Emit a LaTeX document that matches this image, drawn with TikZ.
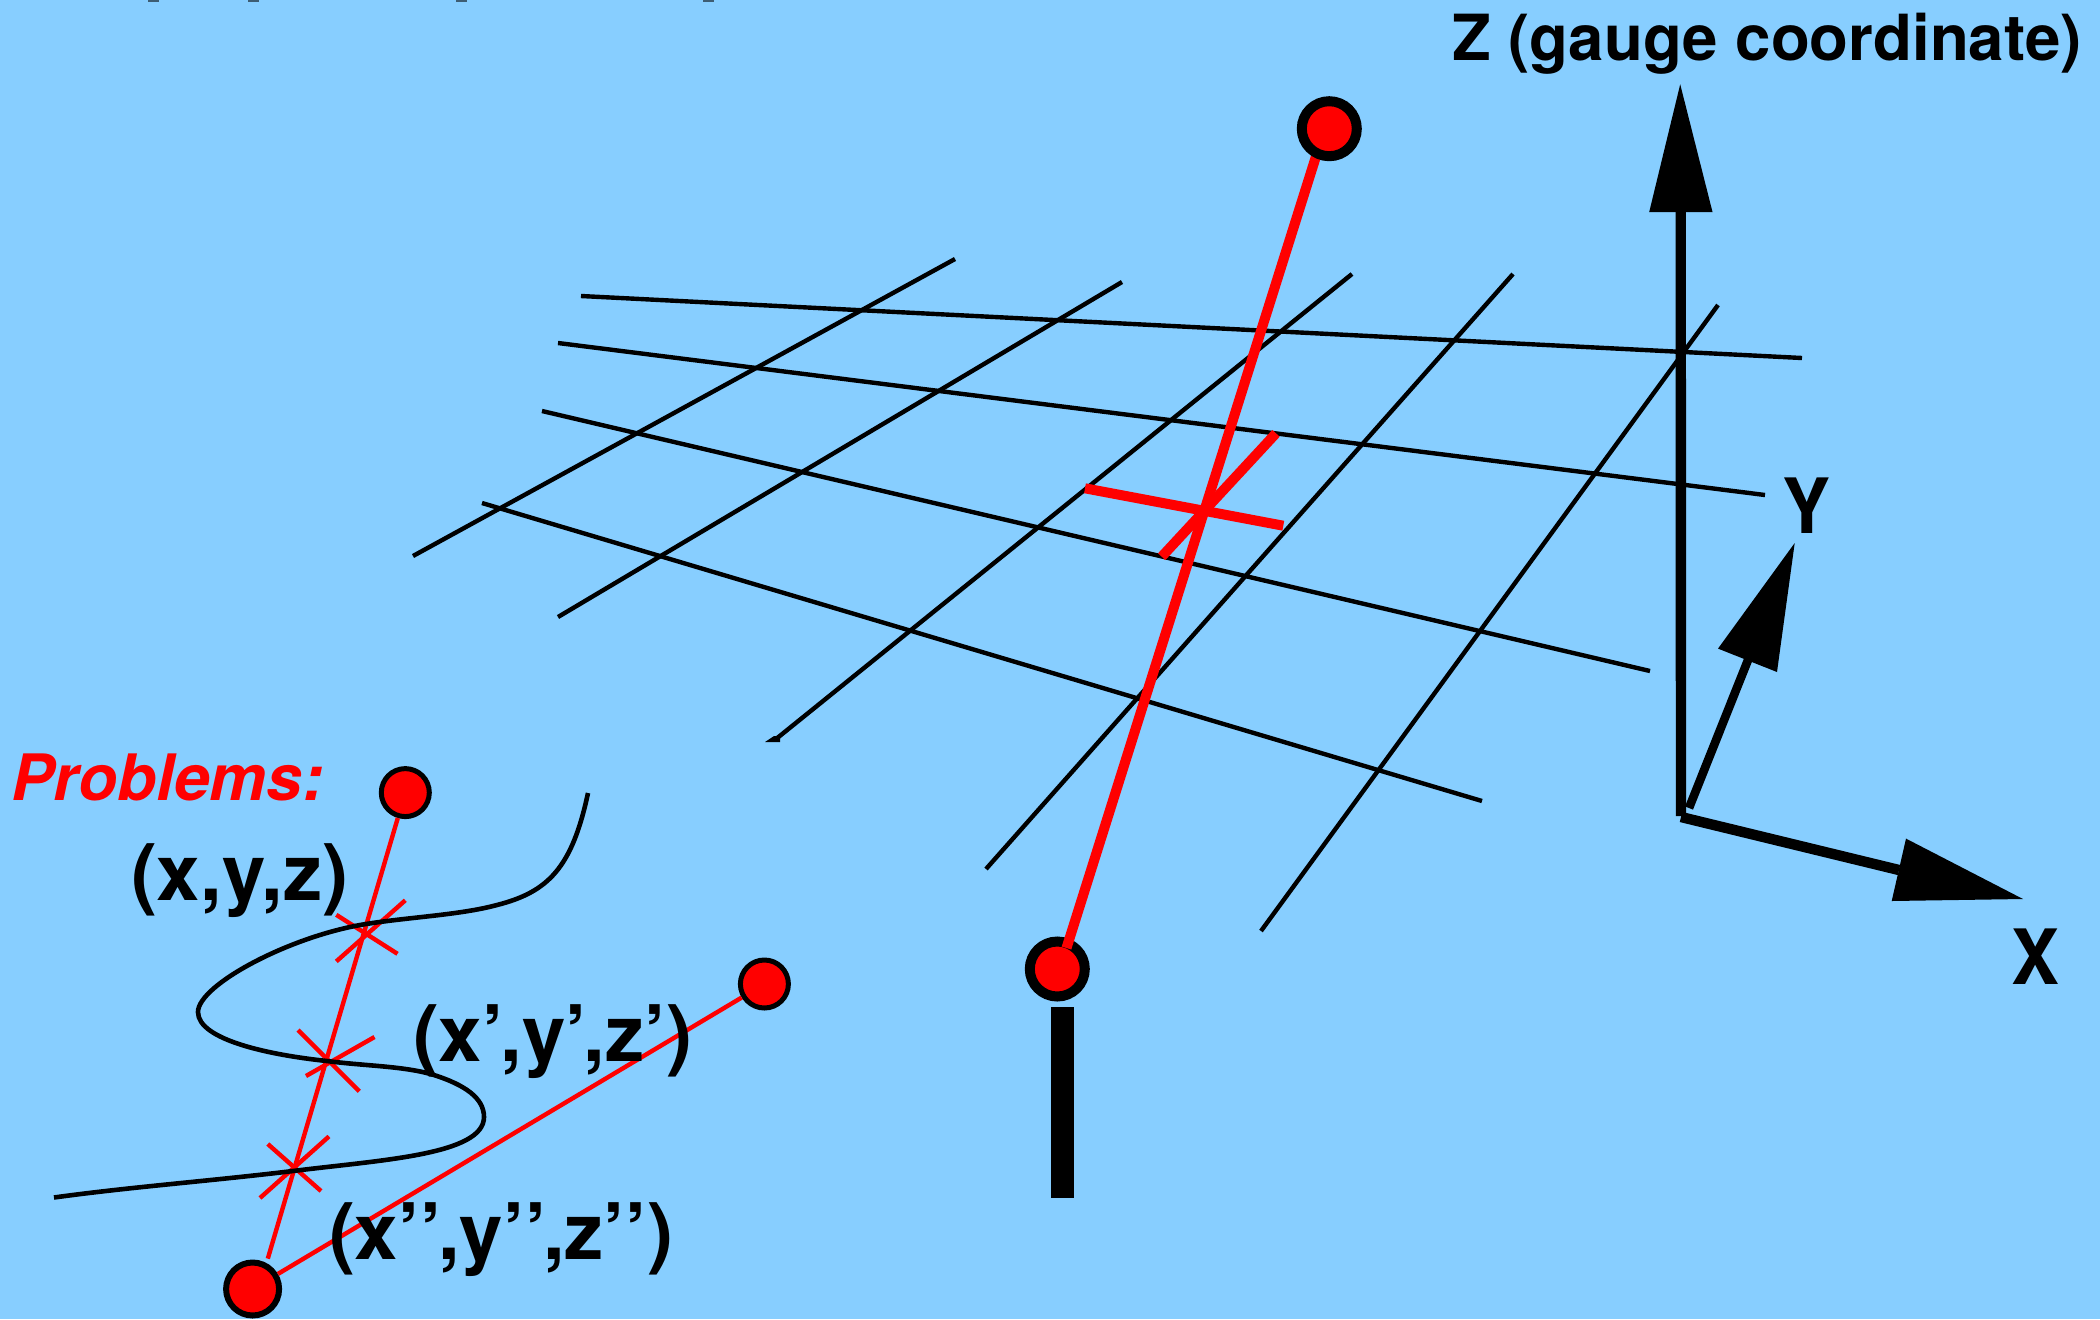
\documentclass[tikz,border=0pt]{standalone}
\usepackage{fontspec}
\setmainfont{TeX Gyre Heros}
\definecolor{bgblue}{HTML}{87CEFF}
\definecolor{pure}{HTML}{FF0000}
\tikzset{
  gridline/.style={draw=black,line width=2.2pt},
  curveline/.style={draw=black,line width=2.3pt},
  mainred/.style={draw=pure,line width=5pt},
  thinred/.style={draw=pure,line width=2.2pt},
  shaft/.style={draw=black,line width=5.2pt},
  head/.style={fill=black,draw=none},
  bigdot/.style={circle,draw=black,fill=pure,line width=5pt,minimum size=27.5pt,inner sep=0pt,outer sep=2.5pt},
  smalldot/.style={circle,draw=black,fill=pure,line width=2.5pt,minimum size=24pt,inner sep=0pt,outer sep=1.25pt},
  lowdot/.style={circle,draw=black,fill=pure,line width=3pt,minimum size=26.5pt,inner sep=0pt,outer sep=1.5pt},
  lab/.style={anchor=base west,inner sep=0pt,outer sep=0pt,font=\fontsize{39}{42}\selectfont\bfseries},
  axislab/.style={anchor=base,inner sep=0pt,outer sep=0pt,font=\fontsize{36}{40}\selectfont\bfseries},
}
\begin{document}
\begin{tikzpicture}[x=0.5pt,y=-0.5pt]
\useasboundingbox (0,0) rectangle (2100,1319);
\fill[bgblue] (0,0) rectangle (2100,1319);
% clipped remains along the top edge
\foreach \tx in {148,248,456,703}{\fill[black!55!bgblue] (\tx,0) rectangle ++(11,1.6);}
% grid
\coordinate (a1l) at (581,296);  \coordinate (a1r) at (1802,358);
\coordinate (a2l) at (558,343);  \coordinate (a2r) at (1765,495);
\coordinate (a3l) at (542,411);  \coordinate (a3r) at (1650,671);
\coordinate (a4l) at (482,503);  \coordinate (a4r) at (1482,801);
\coordinate (b1t) at (955,259);  \coordinate (b1b) at (413,556);
\coordinate (b2t) at (1122,282); \coordinate (b2b) at (558,617);
\coordinate (b3t) at (1352,274); \coordinate (b3b) at (776,739);
\coordinate (b4t) at (1513,274); \coordinate (b4b) at (986,869);
\coordinate (b5t) at (1718,305); \coordinate (b5b) at (1261,931);
\foreach \p in {a1,a2,a3,a4}{\draw[gridline] (\p l) -- (\p r);}
\foreach \p in {b1,b2,b3,b4,b5}{\draw[gridline] (\p t) -- (\p b);}
\fill[black] (765,742) -- (780,742) -- (780,736) -- (774,736) -- cycle;
% pole and central segment
\node[bigdot] (cb) at (1057.3,969) {};
\coordinate (mt) at (1318,150);
\coordinate (mb) at (1066.5,948);
\draw[mainred] (mt) -- (mb);
\node[bigdot] (ct) at (1329.3,128.7) {};
\coordinate (pt) at (1062.2,1007);
\coordinate (pb) at (1062.2,1197.5);
\draw[draw=black,line width=11.5pt] (pt) -- (pb);
\coordinate (r1a) at (1085,488.3); \coordinate (r1b) at (1283.3,525.7);
\coordinate (r2a) at (1276,433.3); \coordinate (r2b) at (1161.7,556.7);
\draw[mainred] (r1a) -- (r1b);
\draw[mainred] (r2a) -- (r2b);
% axes
\coordinate (o)  at (1681,816);
\coordinate (zb) at (1680.7,212);
\coordinate (xs) at (1681,817);
\coordinate (xe) at (1899,870);
\coordinate (ys) at (1689,808);
\coordinate (ye) at (1748,660);
\draw[shaft] (o) -- (zb);
\draw[shaft] (xs) -- (xe);
\draw[draw=black,line width=4.3pt] (ys) -- (ye);
\fill[head] (1680.2,84.3) -- (1649.2,212) -- (1712.5,212) -- cycle;
\fill[head] (1906,838.6) -- (1891.7,901) -- (2023,899) -- cycle;
\fill[head] (1794.7,543) -- (1718,648.6) -- (1777,672) -- cycle;
\node[axislab] (ly) at (1806,533) {\scalebox{1}[1.06]{Y}};
\node[axislab] (lx) at (2035,984) {\scalebox{1}[1.06]{X}};
\node[lab,font=\fontsize{31.8}{36}\selectfont\bfseries] (lz) at (1452,60) {Z (gauge coordinate)};
% lower-left inset
\node[smalldot] (ca) at (405.3,792.6) {};
\node[smalldot] (cr) at (764.4,984) {};
\node[lowdot]   (cc) at (252.6,1289) {};
\coordinate (aend) at (267.8,1258.6);
\draw[thinred] (ca) -- (aend);
\draw[thinred] (cc) -- (cr);
\coordinate (x1a) at (336.3,914.8); \coordinate (x1b) at (397.5,953.8);
\coordinate (x1c) at (405.3,900.3); \coordinate (x1d) at (336.3,961.4);
\coordinate (x2a) at (298,1030);    \coordinate (x2b) at (359.3,1091.3);
\coordinate (x2c) at (374.5,1037);  \coordinate (x2d) at (306,1076);
\coordinate (x3a) at (267.8,1144);  \coordinate (x3b) at (321,1191);
\coordinate (x3c) at (329,1136.4);  \coordinate (x3d) at (260,1198);
\foreach \p/\q in {x1a/x1b,x1c/x1d,x2a/x2b,x2c/x2d,x3a/x3b,x3c/x3d}{\draw[thinred] (\p) -- (\q);}
\draw[curveline] (588,793)
  .. controls (572,868) and (548,892) .. (497,905)
  .. controls (460,915) and (410,917) .. (366,924)
  .. controls (290,936) and (198,985) .. (198,1012)
  .. controls (198,1040) and (270,1055) .. (327,1061)
  .. controls (365,1066) and (405,1066) .. (434,1075)
  .. controls (465,1085) and (484,1098) .. (484,1117)
  .. controls (484,1155) and (380,1160) .. (293,1171)
  .. controls (210,1181) and (130,1187) .. (54,1197.5);
\node[lab,text=pure,font=\fontsize{32}{36}\selectfont\bfseries\itshape] (lp) at (11,800) {Problems:};
\node[lab] (l1) at (131,900.5) {(x,y,z)};
\node[lab] (l2) at (413,1061) {(x’,y’,z’)};
\node[lab] (l3) at (329,1259.5) {(x’’,y’’,z’’)};
\end{tikzpicture}
\end{document}
